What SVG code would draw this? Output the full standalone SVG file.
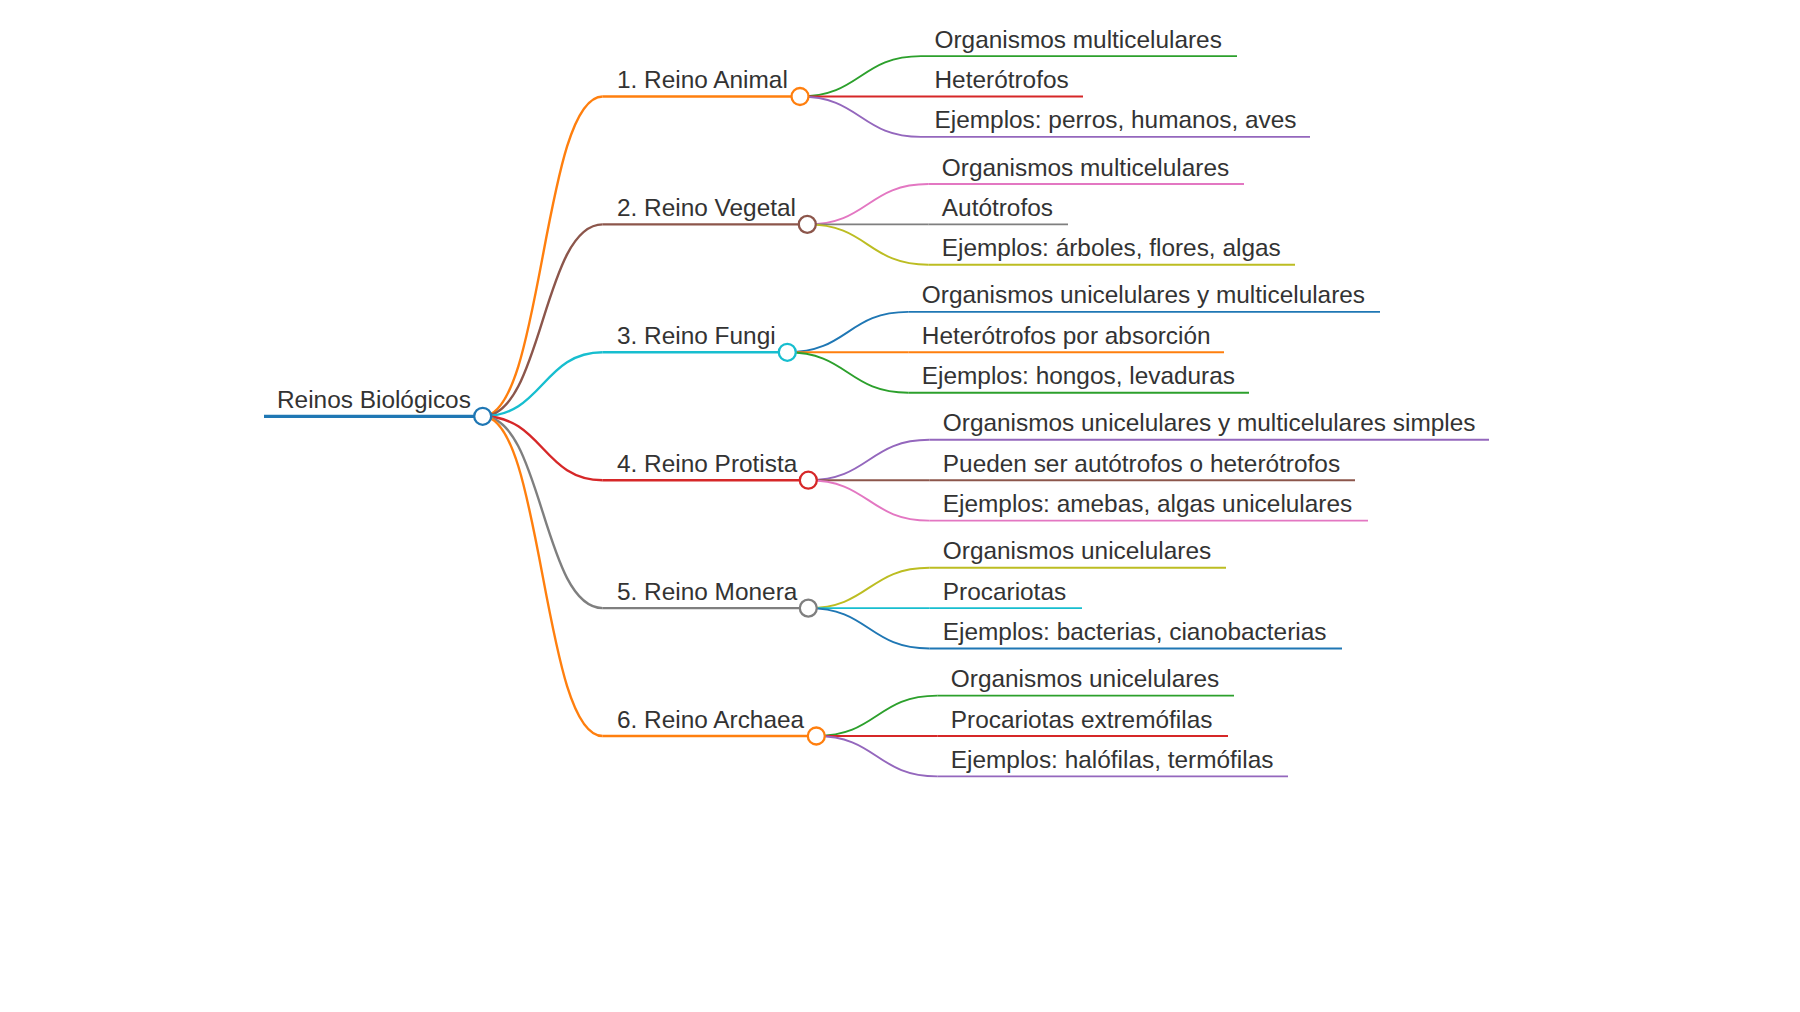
<svg xmlns="http://www.w3.org/2000/svg" width="1800" height="1012" viewBox="0 0 1800 1012">
<style>
text{font-family:"Liberation Sans",Arial,sans-serif;font-size:24.4px;fill:#333}
.l0{stroke-width:3.3;fill:none}
.l1{stroke-width:2.4;fill:none}
.l2{stroke-width:1.9;fill:none}
circle{fill:#fff;stroke-width:2.3}
.blue{stroke:#1f77b4}.orange{stroke:#ff7f0e}.green{stroke:#2ca02c}.red{stroke:#d62728}.purple{stroke:#9467bd}
.brown{stroke:#8c564b}.pink{stroke:#e377c2}.gray{stroke:#7f7f7f}.olive{stroke:#bcbd22}.cyan{stroke:#17becf}
</style>
<rect width="1800" height="1012" fill="#fff"/>
<g id="connectors">
<path class="l1 orange" d="M482.7,416.3 C542.7,416.3 542.7,96.5 602.7,96.5"/>
<path class="l1 brown" d="M482.7,416.3 C542.7,416.3 542.7,224.4 602.7,224.4"/>
<path class="l1 cyan" d="M482.7,416.3 C542.7,416.3 542.7,352.3 602.7,352.3"/>
<path class="l1 red" d="M482.7,416.3 C542.7,416.3 542.7,480.2 602.7,480.2"/>
<path class="l1 gray" d="M482.7,416.3 C542.7,416.3 542.7,608.1 602.7,608.1"/>
<path class="l1 orange" d="M482.7,416.3 C542.7,416.3 542.7,736 602.7,736"/>
<path class="l2 green" d="M800,96.5 C860.5,96.5 860.5,56.1 921,56.1"/>
<path class="l2 red" d="M800,96.5 L921,96.5"/>
<path class="l2 purple" d="M800,96.5 C860.5,96.5 860.5,136.9 921,136.9"/>
<path class="l2 pink" d="M807.3,224.4 C867.8,224.4 867.8,184 928.3,184"/>
<path class="l2 gray" d="M807.3,224.4 L928.3,224.4"/>
<path class="l2 olive" d="M807.3,224.4 C867.8,224.4 867.8,264.8 928.3,264.8"/>
<path class="l2 blue" d="M787.3,352.3 C847.8,352.3 847.8,311.9 908.3,311.9"/>
<path class="l2 orange" d="M787.3,352.3 L908.3,352.3"/>
<path class="l2 green" d="M787.3,352.3 C847.8,352.3 847.8,392.7 908.3,392.7"/>
<path class="l2 purple" d="M808.3,480.2 C868.8,480.2 868.8,439.8 929.3,439.8"/>
<path class="l2 brown" d="M808.3,480.2 L929.3,480.2"/>
<path class="l2 pink" d="M808.3,480.2 C868.8,480.2 868.8,520.6 929.3,520.6"/>
<path class="l2 olive" d="M808.3,608.1 C868.8,608.1 868.8,567.7 929.3,567.7"/>
<path class="l2 cyan" d="M808.3,608.1 L929.3,608.1"/>
<path class="l2 blue" d="M808.3,608.1 C868.8,608.1 868.8,648.5 929.3,648.5"/>
<path class="l2 green" d="M816.3,736 C876.8,736 876.8,695.6 937.3,695.6"/>
<path class="l2 red" d="M816.3,736 L937.3,736"/>
<path class="l2 purple" d="M816.3,736 C876.8,736 876.8,776.4 937.3,776.4"/>
</g>
<g id="root">
<line class="l0 blue" x1="264" y1="416.3" x2="482.7" y2="416.3"/>
<circle class="blue" cx="482.7" cy="416.3" r="8.5"/>
<text x="277" y="407.8">Reinos Biológicos</text>
</g>
<g id="animal">
<line class="l1 orange" x1="602.7" y1="96.5" x2="800" y2="96.5"/>
<circle class="orange" cx="800" cy="96.5" r="8.5"/>
<text x="617" y="88">1. Reino Animal</text>
</g>
<g id="animal-1"><line class="l2 green" x1="921" y1="56.1" x2="1237" y2="56.1"/><text x="934.5" y="47.6">Organismos multicelulares</text></g>
<g id="animal-2"><line class="l2 red" x1="921" y1="96.5" x2="1083" y2="96.5"/><text x="934.5" y="88">Heterótrofos</text></g>
<g id="animal-3"><line class="l2 purple" x1="921" y1="136.9" x2="1310" y2="136.9"/><text x="934.5" y="128.4">Ejemplos: perros, humanos, aves</text></g>
<g id="vegetal">
<line class="l1 brown" x1="602.7" y1="224.4" x2="807.3" y2="224.4"/>
<circle class="brown" cx="807.3" cy="224.4" r="8.5"/>
<text x="617" y="215.9">2. Reino Vegetal</text>
</g>
<g id="vegetal-1"><line class="l2 pink" x1="928.3" y1="184" x2="1244" y2="184"/><text x="941.8" y="175.5">Organismos multicelulares</text></g>
<g id="vegetal-2"><line class="l2 gray" x1="928.3" y1="224.4" x2="1068" y2="224.4"/><text x="941.8" y="215.9">Autótrofos</text></g>
<g id="vegetal-3"><line class="l2 olive" x1="928.3" y1="264.8" x2="1295" y2="264.8"/><text x="941.8" y="256.3">Ejemplos: árboles, flores, algas</text></g>
<g id="fungi">
<line class="l1 cyan" x1="602.7" y1="352.3" x2="787.3" y2="352.3"/>
<circle class="cyan" cx="787.3" cy="352.3" r="8.5"/>
<text x="617" y="343.8">3. Reino Fungi</text>
</g>
<g id="fungi-1"><line class="l2 blue" x1="908.3" y1="311.9" x2="1380" y2="311.9"/><text x="921.8" y="303.4">Organismos unicelulares y multicelulares</text></g>
<g id="fungi-2"><line class="l2 orange" x1="908.3" y1="352.3" x2="1224" y2="352.3"/><text x="921.8" y="343.8">Heterótrofos por absorción</text></g>
<g id="fungi-3"><line class="l2 green" x1="908.3" y1="392.7" x2="1249" y2="392.7"/><text x="921.8" y="384.2">Ejemplos: hongos, levaduras</text></g>
<g id="protista">
<line class="l1 red" x1="602.7" y1="480.2" x2="808.3" y2="480.2"/>
<circle class="red" cx="808.3" cy="480.2" r="8.5"/>
<text x="617" y="471.7">4. Reino Protista</text>
</g>
<g id="protista-1"><line class="l2 purple" x1="929.3" y1="439.8" x2="1489" y2="439.8"/><text x="942.8" y="431.3">Organismos unicelulares y multicelulares simples</text></g>
<g id="protista-2"><line class="l2 brown" x1="929.3" y1="480.2" x2="1355" y2="480.2"/><text x="942.8" y="471.7">Pueden ser autótrofos o heterótrofos</text></g>
<g id="protista-3"><line class="l2 pink" x1="929.3" y1="520.6" x2="1368" y2="520.6"/><text x="942.8" y="512.1">Ejemplos: amebas, algas unicelulares</text></g>
<g id="monera">
<line class="l1 gray" x1="602.7" y1="608.1" x2="808.3" y2="608.1"/>
<circle class="gray" cx="808.3" cy="608.1" r="8.5"/>
<text x="617" y="599.6">5. Reino Monera</text>
</g>
<g id="monera-1"><line class="l2 olive" x1="929.3" y1="567.7" x2="1226" y2="567.7"/><text x="942.8" y="559.2">Organismos unicelulares</text></g>
<g id="monera-2"><line class="l2 cyan" x1="929.3" y1="608.1" x2="1082" y2="608.1"/><text x="942.8" y="599.6">Procariotas</text></g>
<g id="monera-3"><line class="l2 blue" x1="929.3" y1="648.5" x2="1342" y2="648.5"/><text x="942.8" y="640">Ejemplos: bacterias, cianobacterias</text></g>
<g id="archaea">
<line class="l1 orange" x1="602.7" y1="736" x2="816.3" y2="736"/>
<circle class="orange" cx="816.3" cy="736" r="8.5"/>
<text x="617" y="727.5">6. Reino Archaea</text>
</g>
<g id="archaea-1"><line class="l2 green" x1="937.3" y1="695.6" x2="1234" y2="695.6"/><text x="950.8" y="687.1">Organismos unicelulares</text></g>
<g id="archaea-2"><line class="l2 red" x1="937.3" y1="736" x2="1228" y2="736"/><text x="950.8" y="727.5">Procariotas extremófilas</text></g>
<g id="archaea-3"><line class="l2 purple" x1="937.3" y1="776.4" x2="1288" y2="776.4"/><text x="950.8" y="767.9">Ejemplos: halófilas, termófilas</text></g>
</svg>
